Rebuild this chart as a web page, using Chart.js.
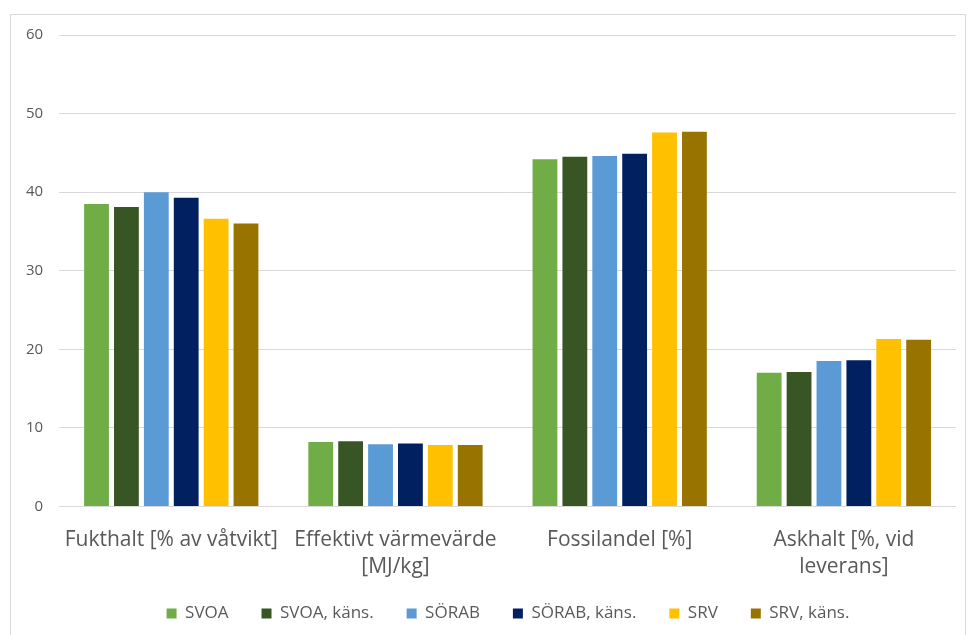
<!DOCTYPE html>
<html>
<head>
<meta charset="utf-8">
<script src="https://cdn.jsdelivr.net/npm/chart.js@4/dist/chart.umd.min.js"></script>
<style>
  html, body { margin: 0; padding: 0; background: #fff; overflow: hidden; }
  #frame { position: absolute; left: 10px; top: 14px; width: 956px; height: 640px; border: 1px solid #d9d9d9; box-sizing: border-box; }
  #wrap { position: absolute; left: 0; top: 0; width: 976px; height: 635px; }
</style>
</head>
<body>
<div id="frame"></div>
<div id="wrap"><canvas id="chart" width="976" height="635"></canvas></div>
<script>
// kategorier och serier
const categories = [
  "Fukthalt [% av våtvikt]",
  ["Effektivt värmevärde", "[MJ/kg]"],
  "Fossilandel [%]",
  ["Askhalt [%, vid", "leverans]"]
];
const seriesNames = ["SVOA", "SVOA, käns.", "SÖRAB", "SÖRAB, käns.", "SRV", "SRV, käns."];
const svoa       = [38.5, 8.2, 44.2, 17.0];
const svoaKans   = [38.1, 8.3, 44.5, 17.1];
const sorab      = [40.0, 7.9, 44.6, 18.5];
const sorabKans  = [39.3, 8.0, 44.9, 18.6];
const srv        = [36.6, 7.8, 47.6, 21.3];
const srvKans    = [36.0, 7.8, 47.7, 21.2];
const yTicks = [0, 10, 20, 30, 40, 50, 60];

const colors = ["#70AD47", "#375623", "#5B9BD5", "#002060", "#FFC000", "#997300"];
const values = [svoa, svoaKans, sorab, sorabKans, srv, srvKans];
const FONT = "'Open Sans', sans-serif";
const textColor = "#595959";
const X_SHRINK = 21;

const datasets = seriesNames.map((name, i) => ({
  label: name,
  data: values[i],
  backgroundColor: colors[i],
  borderWidth: 0,
  categoryPercentage: 0.8,
  barPercentage: 0.83
}));

// legend closer to the category labels, and a bit to the right like the original
const tweakLayout = {
  id: "tweakLayout",
  afterLayout(chart) {
    const x = chart.scales.x;
    x.bottom += X_SHRINK;
    x.height += X_SHRINK;
    chart.legend.left += 25;
    chart.legend.right += 25;
  }
};

new Chart(document.getElementById("chart"), {
  type: "bar",
  data: { labels: categories, datasets },
  plugins: [tweakLayout],
  options: {
    responsive: false,
    animation: false,
    layout: { padding: { left: 10, right: 20, top: 35, bottom: 3 } },
    plugins: {
      tooltip: { enabled: false },
      legend: {
        position: "bottom",
        labels: {
          color: textColor,
          font: { family: FONT, size: 17 },
          boxWidth: 10,
          boxHeight: 10,
          padding: 33
        }
      }
    },
    scales: {
      x: {
        grid: { display: false },
        border: { display: false },
        afterFit: axis => { axis.height -= X_SHRINK; },
        ticks: {
          color: textColor,
          font: { family: FONT, size: 21, lineHeight: 1.3 },
          maxRotation: 0,
          autoSkip: false,
          padding: 12
        }
      },
      y: {
        min: 0,
        max: 60,
        afterBuildTicks: axis => { axis.ticks = yTicks.map(v => ({ value: v })); },
        grid: { color: "#d9d9d9", drawTicks: false },
        border: { display: false },
        ticks: {
          color: textColor,
          font: { family: FONT, size: 15 },
          padding: 16
        }
      }
    }
  }
});
</script>
</body>
</html>
